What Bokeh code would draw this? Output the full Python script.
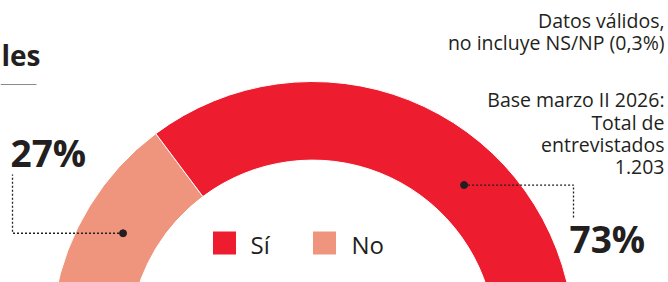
import math
from bokeh.plotting import figure
from bokeh.models import Range1d, ColumnDataSource
from bokeh.core.properties import value
from bokeh.embed import file_html
from bokeh.resources import INLINE

# ---- data ----
categories = ["No", "Sí"]
values = [27, 73]
pct_labels = ["27%", "73%"]
colors = ["#EF957D", "#ED1C2E"]
title_tail = "les"
note_lines = ["Datos válidos,", "no incluye NS/NP (0,3%)"]
base_lines = ["Base marzo II 2026:", "Total de", "entrevistados", "1.203"]

# ---- layout (pixel coords of the picture, y down) ----
W, H = 668, 282
def Y(py):
    return H - py

CX, CY = 312, Y(342.6)
R_OUT, R_IN = 261.6, 183
SPAN, START = 160.0, 170.0
DARK = "#231F20"
FONT = "Open Sans"

p = figure(width=W, height=H, x_range=Range1d(0, W), y_range=Range1d(0, H),
           output_backend="svg", toolbar_location=None, min_border=0)
p.axis.visible = False
p.grid.visible = False
p.outline_line_color = None
p.background_fill_color = "white"
p.border_fill_color = "white"

# wedges from data
total = sum(values)
starts, ends = [], []
a = START
for v in values:
    b = a - SPAN * v / total
    starts.append(math.radians(b))
    ends.append(math.radians(a))
    a = b
src = ColumnDataSource(dict(cat=categories, val=values, s=starts, e=ends, c=colors))
p.annular_wedge(x=CX, y=CY, inner_radius=R_IN, outer_radius=R_OUT, start_angle="s",
                end_angle="e", fill_color="c", line_color="white", line_width=1, source=src)

# leader lines + dots
anchor_ang = [149.9, 46.2]
anchor_r = 219
dots_x = [CX + anchor_r * math.cos(math.radians(t)) for t in anchor_ang]
dots_y = [CY + anchor_r * math.sin(math.radians(t)) for t in anchor_ang]
elbow_x = [12, 573]
end_y = [Y(174), Y(217)]
for i in range(2):
    p.line([dots_x[i], elbow_x[i], elbow_x[i]], [dots_y[i], dots_y[i], end_y[i]],
           line_color=DARK, line_width=1.3, line_dash="2 2")
p.scatter(dots_x, dots_y, size=7, color=DARK)

# percentage labels
p.text([10, 569], [Y(166 - 14.5), Y(252 - 14.5)], text=pct_labels, text_font=value(FONT),
       text_font_style="bold", text_font_size="37px", text_color=DARK,
       text_baseline="alphabetic", text_align="left")

# legend (Sí first, then No)
leg_order = [1, 0]
leg_cols = [colors[i] for i in leg_order]
leg_text = [categories[i] for i in leg_order]
p.scatter([224, 324], [Y(242.5)] * 2, marker="square", size=23, color=leg_cols, line_color=None)
p.text([250, 351], [Y(253 - 9)] * 2, text=leg_text,
       text_font=value(FONT), text_font_size="24px", text_color=DARK,
       text_baseline="alphabetic", text_align="left")

# notes
note_y = [28, 50]
p.text([664] * 2, [Y(v - 8) for v in note_y], text=note_lines, text_font=value(FONT),
       text_font_size="19.5px", text_color=DARK, text_baseline="alphabetic", text_align="right")
base_y = [107, 130, 152, 174]
p.text([664] * 4, [Y(v - 8) for v in base_y], text=base_lines, text_font=value(FONT),
       text_font_size="19.5px", text_color=DARK, text_baseline="alphabetic", text_align="right")

# title fragment
p.text([1], [Y(68 - 14)], text=[title_tail], text_font=value(FONT), text_font_style="bold",
       text_font_size="28px", text_color=DARK, text_baseline="alphabetic", text_align="left")
p.line([0, 36], [Y(84), Y(84)], line_color="#8A8A8A", line_width=1)

open("out.html", "w").write(file_html(p, INLINE))
